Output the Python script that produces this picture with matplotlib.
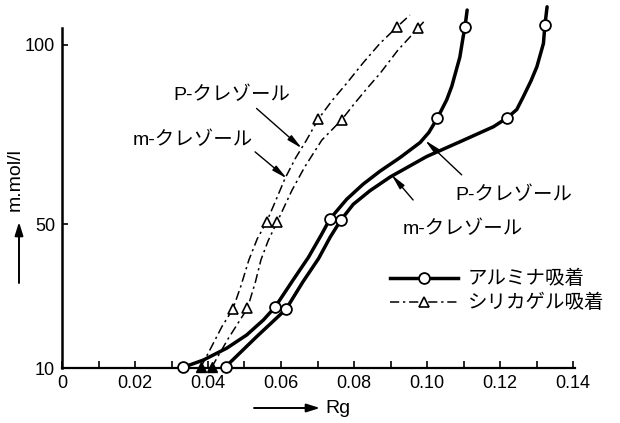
import matplotlib
matplotlib.use("Agg")
import matplotlib.pyplot as plt
from matplotlib.lines import Line2D
from matplotlib.ticker import MultipleLocator, FixedLocator

plt.rcParams['font.family'] = ['Liberation Sans', 'Noto Sans CJK JP', 'DejaVu Sans']

# ---- data ----
# Alumina adsorption, p-cresol: curve trace and measured points
al_p_rg = [0.0332, 0.0387, 0.0451, 0.0506, 0.0552, 0.0584, 0.0633, 0.0675, 0.0710, 0.0734,
           0.0780, 0.0825, 0.0871, 0.0926, 0.0981, 0.1005, 0.1028, 0.1054, 0.1068, 0.1090,
           0.1099, 0.1104, 0.1110]
al_p_c = [10.2, 12.2, 15.5, 19.2, 23.4, 27.0, 34.5, 40.8, 47.0, 51.5,
          57.0, 61.2, 64.8, 68.6, 72.8, 75.6, 79.5, 84.7, 88.5, 96.6,
          102.2, 105.0, 109.7]
al_p_pts_rg = [0.0332, 0.0584, 0.0734, 0.1028, 0.1104]
al_p_pts_c = [10.2, 27.0, 51.5, 79.5, 105.0]

# Alumina adsorption, m-cresol
al_m_rg = [0.0449, 0.0533, 0.0614, 0.0660, 0.0703, 0.0735, 0.0764, 0.0798, 0.0844, 0.0899,
           0.0999, 0.1090, 0.1182, 0.1220, 0.1246, 0.1264, 0.1285, 0.1301, 0.1319, 0.1323,
           0.1329]
al_m_c = [10.4, 18.7, 26.4, 34.0, 40.5, 46.5, 51.2, 55.6, 59.4, 63.2,
          68.9, 73.0, 77.2, 79.7, 82.0, 85.6, 90.0, 93.9, 100.4, 105.5,
          110.6]
al_m_pts_rg = [0.0449, 0.0614, 0.0764, 0.1220, 0.1323]
al_m_pts_c = [10.4, 26.4, 51.2, 79.7, 105.5]

# Silica gel adsorption, p-cresol
si_p_rg = [0.0380, 0.0405, 0.0438, 0.0468, 0.0490, 0.0512, 0.0535, 0.0561, 0.0585, 0.0611,
           0.0640, 0.0670, 0.0702, 0.0740, 0.0780, 0.0825, 0.0871, 0.0919, 0.0953]
si_p_c = [10.2, 15.0, 21.5, 26.4, 32.8, 40.1, 46.0, 50.8, 56.5, 62.8,
          68.5, 73.5, 79.3, 84.5, 89.3, 95.0, 100.4, 105.1, 108.3]
si_p_pts_rg = [0.0468, 0.0561, 0.0702, 0.0919]
si_p_pts_c = [26.4, 50.8, 79.3, 105.1]
si_p_base_rg = [0.0380]
si_p_base_c = [10.2]

# Silica gel adsorption, m-cresol
si_m_rg = [0.0410, 0.0456, 0.0508, 0.0530, 0.0545, 0.0565, 0.0590, 0.0630, 0.0665, 0.0712,
           0.0766, 0.0800, 0.0835, 0.0871, 0.0920, 0.0975, 0.0995]
si_m_c = [10.2, 18.3, 26.6, 34.0, 40.1, 45.5, 50.8, 59.5, 66.0, 73.5,
          79.1, 83.5, 87.8, 92.0, 98.5, 104.6, 106.9]
si_m_pts_rg = [0.0508, 0.0590, 0.0766, 0.0975]
si_m_pts_c = [26.6, 50.8, 79.1, 104.6]
si_m_base_rg = [0.0410]
si_m_base_c = [10.2]

x_major = [0, 0.02, 0.04, 0.06, 0.08, 0.10, 0.12, 0.14]
x_labels = ['0', '0.02', '0.04', '0.06', '0.08', '0.10', '0.12', '0.14']
y_ticks = [10, 50, 100]
y_labels = ['10', '50', '100']

legend_labels = ['アルミナ吸着', 'シリカゲル吸着']
p_label = 'P-クレゾール'
m_label = 'm-クレゾール'

# ---- figure ----
W, H = 620, 423
fig = plt.figure(figsize=(W / 100, H / 100), dpi=100)
ax = fig.add_axes([62 / W, 55 / H, 518.3 / W, 366.2 / H])
ax.set_xlim(0, 0.142)
ax.set_ylim(10, 112)

solid_kw = dict(color='black', lw=2.5, solid_capstyle='round', solid_joinstyle='round',
                clip_on=False)
dash = (0, (6, 2.5, 1.5, 2.5))
dash_kw = dict(color='black', lw=1.1, linestyle=dash, clip_on=False)
circ_kw = dict(linestyle='none', marker='o', ms=7.8, mfc='white', mec='black', mew=1.3,
               zorder=5, clip_on=False)
tri_kw = dict(linestyle='none', marker='^', ms=7.5, mfc='white', mec='black', mew=1.2,
              zorder=5, clip_on=False)
tri_fill_kw = dict(linestyle='none', marker='^', ms=6.5, mfc='black', mec='black', mew=1.0,
                   zorder=5, clip_on=False)

ax.plot(al_p_rg, al_p_c, **solid_kw)
ax.plot(al_m_rg, al_m_c, **solid_kw)
ax.plot(si_p_rg, si_p_c, **dash_kw)
ax.plot(si_m_rg, si_m_c, **dash_kw)
ax.plot(al_p_pts_rg, al_p_pts_c, **circ_kw)
ax.plot(al_m_pts_rg, al_m_pts_c, **circ_kw)
ax.plot(si_p_pts_rg, si_p_pts_c, **tri_kw)
ax.plot(si_m_pts_rg, si_m_pts_c, **tri_kw)
ax.plot(si_p_base_rg, si_p_base_c, **tri_fill_kw)
ax.plot(si_m_base_rg, si_m_base_c, **tri_fill_kw)

# axes styling
for s in ['top', 'right']:
    ax.spines[s].set_visible(False)
ax.spines['left'].set_linewidth(1.8)
ax.spines['bottom'].set_linewidth(1.6)
ax.spines['left'].set_bounds(10, 104.7)
ax.spines['bottom'].set_bounds(0, 0.1405)

ax.xaxis.set_major_locator(FixedLocator(x_major))
ax.set_xticklabels(x_labels)
ax.xaxis.set_minor_locator(MultipleLocator(0.01))
ax.set_yticks(y_ticks)
ax.set_yticklabels(y_labels)
ax.tick_params(axis='x', which='both', direction='in', length=5, width=1.2, pad=5, labelsize=13)
ax.tick_params(axis='y', which='both', direction='in', length=4, width=1.2, pad=5, labelsize=13)

# annotations
arrow_kw = dict(arrowstyle='-|>,head_length=0.9,head_width=0.18', lw=1.0, color='black',
                shrinkA=0, shrinkB=0)
ax.text(0.0304, 86.0, p_label, fontsize=14, ha='left', va='center')
ax.text(0.0195, 73.5, m_label, fontsize=14, ha='left', va='center')
ax.annotate('', xy=(0.0657, 71.2), xytext=(0.0533, 82.3), arrowprops=arrow_kw)
ax.annotate('', xy=(0.0616, 62.8), xytext=(0.0529, 70.2), arrowprops=arrow_kw)

ax.text(0.1077, 58.2, p_label, fontsize=14, ha='left', va='center')
ax.text(0.0934, 48.7, m_label, fontsize=14, ha='left', va='center')
ax.annotate('', xy=(0.0995, 73.4), xytext=(0.1095, 63.8), arrowprops=arrow_kw)
ax.annotate('', xy=(0.0903, 63.8), xytext=(0.0962, 56.8), arrowprops=arrow_kw)

# legend
handles = [
    Line2D([], [], color='black', lw=2.5, marker='o', ms=7.8, mfc='white', mec='black', mew=1.3),
    Line2D([], [], color='black', lw=1.1, linestyle=dash, marker='^', ms=7.5, mfc='white',
           mec='black', mew=1.2),
]
leg = fig.legend(handles, legend_labels, loc='upper left',
                 bbox_to_anchor=(390 / W, 1 - 270 / H), frameon=False, fontsize=14,
                 handlelength=3.5, handletextpad=0.5, labelspacing=0.3, borderpad=0,
                 borderaxespad=0, numpoints=1)

# axis labels with arrows
fig.text(15 / W, 1 - 180 / H, 'm.mol/l', rotation=90, ha='center', va='center', fontsize=14)
fig.text(338 / W, 1 - 408 / H, 'Rg', ha='center', va='center', fontsize=14)
fig_arrow = dict(arrowstyle='-|>,head_length=0.8,head_width=0.25', lw=1.4, color='black',
                 shrinkA=0, shrinkB=0)
ax.annotate('', xy=(19, H - 222), xytext=(19, H - 283), xycoords='figure pixels',
            textcoords='figure pixels', arrowprops=fig_arrow)
ax.annotate('', xy=(320, H - 408), xytext=(254, H - 408), xycoords='figure pixels',
            textcoords='figure pixels', arrowprops=fig_arrow)

fig.savefig('out.png', dpi=100)
